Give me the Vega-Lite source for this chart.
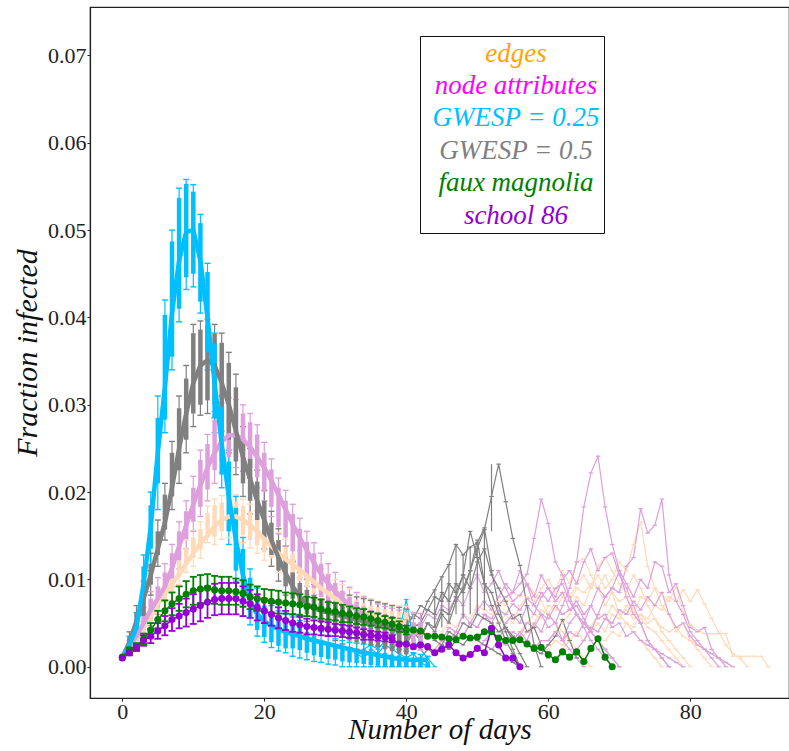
{
"$schema":"https://vega.github.io/schema/vega-lite/v6.json",
"width":699,"height":691,
"autosize":{"type":"none"},
"padding":{"left":90,"top":7,"right":0,"bottom":53},
"background":"white",
"config":{
 "font":"Liberation Serif",
 "view":{"stroke":"#222","strokeWidth":1.2},
 "style":{"guide-label":{"font":"Liberation Serif"},"guide-title":{"font":"Liberation Serif"}},
 "axis":{"domainColor":"#222","domainWidth":1.2,"tickColor":"#222","labelColor":"#222","labelFont":"Liberation Serif","labelFontSize":22,"titleFont":"Liberation Serif","titleFontStyle":"italic","titleFontWeight":"normal","titleFontSize":28,"titleColor":"#111","grid":false},
 "legend":{"labelFont":"Liberation Serif"}
},
"datasets":{
"box":[
{"m":"e","d":0,"v":0.001,"lo":0.001,"q1":0.001,"q3":0.001,"hi":0.001},
{"m":"e","d":1,"v":0.002,"lo":0.0013,"q1":0.0016,"q3":0.0024,"hi":0.0028},
{"m":"e","d":2,"v":0.0032,"lo":0.0022,"q1":0.0026,"q3":0.0038,"hi":0.0043},
{"m":"e","d":3,"v":0.0045,"lo":0.0032,"q1":0.0037,"q3":0.0053,"hi":0.0059},
{"m":"e","d":4,"v":0.0058,"lo":0.0043,"q1":0.0049,"q3":0.0067,"hi":0.0074},
{"m":"e","d":5,"v":0.0072,"lo":0.0055,"q1":0.0062,"q3":0.0082,"hi":0.009},
{"m":"e","d":6,"v":0.0085,"lo":0.0066,"q1":0.0073,"q3":0.0096,"hi":0.0105},
{"m":"e","d":7,"v":0.0095,"lo":0.0076,"q1":0.0084,"q3":0.0108,"hi":0.0117},
{"m":"e","d":8,"v":0.0106,"lo":0.0094,"q1":0.0103,"q3":0.0122,"hi":0.013},
{"m":"e","d":9,"v":0.0118,"lo":0.0108,"q1":0.0119,"q3":0.0137,"hi":0.0145},
{"m":"e","d":10,"v":0.013,"lo":0.0115,"q1":0.0125,"q3":0.0148,"hi":0.0156},
{"m":"e","d":11,"v":0.0141,"lo":0.0124,"q1":0.0134,"q3":0.0158,"hi":0.0166},
{"m":"e","d":12,"v":0.015,"lo":0.0142,"q1":0.0152,"q3":0.0176,"hi":0.0184},
{"m":"e","d":13,"v":0.0161,"lo":0.014,"q1":0.0149,"q3":0.0185,"hi":0.0192},
{"m":"e","d":14,"v":0.0168,"lo":0.0146,"q1":0.0155,"q3":0.0188,"hi":0.0196},
{"m":"e","d":15,"v":0.0172,"lo":0.0148,"q1":0.0157,"q3":0.019,"hi":0.0198},
{"m":"e","d":16,"v":0.0172,"lo":0.0146,"q1":0.0155,"q3":0.0189,"hi":0.0197},
{"m":"e","d":17,"v":0.0168,"lo":0.0142,"q1":0.0151,"q3":0.0184,"hi":0.0192},
{"m":"e","d":18,"v":0.0162,"lo":0.0136,"q1":0.0145,"q3":0.0178,"hi":0.0186},
{"m":"e","d":19,"v":0.0155,"lo":0.013,"q1":0.0139,"q3":0.0171,"hi":0.0179},
{"m":"e","d":20,"v":0.0146,"lo":0.0122,"q1":0.0131,"q3":0.0162,"hi":0.017},
{"m":"e","d":21,"v":0.0138,"lo":0.0115,"q1":0.0124,"q3":0.0153,"hi":0.0162},
{"m":"e","d":22,"v":0.013,"lo":0.0108,"q1":0.0117,"q3":0.0145,"hi":0.0154},
{"m":"e","d":23,"v":0.0123,"lo":0.0101,"q1":0.011,"q3":0.0137,"hi":0.0146},
{"m":"e","d":24,"v":0.0117,"lo":0.0095,"q1":0.0104,"q3":0.013,"hi":0.0139},
{"m":"e","d":25,"v":0.0111,"lo":0.0089,"q1":0.0098,"q3":0.0124,"hi":0.0133},
{"m":"e","d":26,"v":0.0104,"lo":0.0082,"q1":0.0091,"q3":0.0117,"hi":0.0126},
{"m":"e","d":27,"v":0.0097,"lo":0.0076,"q1":0.0084,"q3":0.011,"hi":0.0119},
{"m":"e","d":28,"v":0.009,"lo":0.007,"q1":0.0078,"q3":0.0103,"hi":0.0112},
{"m":"e","d":29,"v":0.0084,"lo":0.0065,"q1":0.0072,"q3":0.0097,"hi":0.0106},
{"m":"e","d":30,"v":0.0078,"lo":0.006,"q1":0.0067,"q3":0.0091,"hi":0.01},
{"m":"e","d":31,"v":0.0073,"lo":0.0056,"q1":0.0063,"q3":0.0086,"hi":0.0094},
{"m":"e","d":32,"v":0.0069,"lo":0.0052,"q1":0.0059,"q3":0.0081,"hi":0.0089},
{"m":"e","d":33,"v":0.0065,"lo":0.0049,"q1":0.0055,"q3":0.0077,"hi":0.0085},
{"m":"e","d":34,"v":0.0062,"lo":0.0046,"q1":0.0052,"q3":0.0073,"hi":0.0081},
{"m":"e","d":35,"v":0.0059,"lo":0.0043,"q1":0.0049,"q3":0.007,"hi":0.0078},
{"m":"e","d":36,"v":0.0057,"lo":0.0041,"q1":0.0047,"q3":0.0068,"hi":0.0075},
{"m":"e","d":37,"v":0.0055,"lo":0.0039,"q1":0.0045,"q3":0.0066,"hi":0.0073},
{"m":"e","d":38,"v":0.0053,"lo":0.0037,"q1":0.0043,"q3":0.0064,"hi":0.0071},
{"m":"e","d":39,"v":0.0052,"lo":0.0036,"q1":0.0042,"q3":0.0063,"hi":0.007},
{"m":"e","d":40,"v":0.0051,"lo":0.0035,"q1":0.0041,"q3":0.0062,"hi":0.0069},
{"m":"n","d":0,"v":0.001,"lo":0.001,"q1":0.001,"q3":0.001,"hi":0.001},
{"m":"n","d":1,"v":0.0022,"lo":0.0014,"q1":0.0018,"q3":0.0026,"hi":0.003},
{"m":"n","d":2,"v":0.0035,"lo":0.0024,"q1":0.0029,"q3":0.0042,"hi":0.0048},
{"m":"n","d":3,"v":0.005,"lo":0.0035,"q1":0.0042,"q3":0.006,"hi":0.0068},
{"m":"n","d":4,"v":0.0065,"lo":0.0047,"q1":0.0055,"q3":0.0078,"hi":0.0086},
{"m":"n","d":5,"v":0.0078,"lo":0.006,"q1":0.0068,"q3":0.0092,"hi":0.0102},
{"m":"n","d":6,"v":0.0092,"lo":0.0075,"q1":0.0083,"q3":0.0108,"hi":0.0118},
{"m":"n","d":7,"v":0.0113,"lo":0.0092,"q1":0.0101,"q3":0.013,"hi":0.014},
{"m":"n","d":8,"v":0.0138,"lo":0.0112,"q1":0.0122,"q3":0.0155,"hi":0.0166},
{"m":"n","d":9,"v":0.0162,"lo":0.0135,"q1":0.0146,"q3":0.0178,"hi":0.019},
{"m":"n","d":10,"v":0.0186,"lo":0.0155,"q1":0.0166,"q3":0.0205,"hi":0.0218},
{"m":"n","d":11,"v":0.0208,"lo":0.0172,"q1":0.0183,"q3":0.0237,"hi":0.0248},
{"m":"n","d":12,"v":0.0228,"lo":0.019,"q1":0.0203,"q3":0.0255,"hi":0.0266},
{"m":"n","d":13,"v":0.0245,"lo":0.021,"q1":0.0225,"q3":0.0283,"hi":0.0292},
{"m":"n","d":14,"v":0.0258,"lo":0.0222,"q1":0.0235,"q3":0.0292,"hi":0.0302},
{"m":"n","d":15,"v":0.0265,"lo":0.0228,"q1":0.024,"q3":0.0298,"hi":0.0308},
{"m":"n","d":16,"v":0.0265,"lo":0.0228,"q1":0.024,"q3":0.0296,"hi":0.0306},
{"m":"n","d":17,"v":0.026,"lo":0.0224,"q1":0.0236,"q3":0.029,"hi":0.03},
{"m":"n","d":18,"v":0.0252,"lo":0.0216,"q1":0.0228,"q3":0.028,"hi":0.029},
{"m":"n","d":19,"v":0.024,"lo":0.0205,"q1":0.0217,"q3":0.0266,"hi":0.0277},
{"m":"n","d":20,"v":0.0228,"lo":0.019,"q1":0.02,"q3":0.0245,"hi":0.0257},
{"m":"n","d":21,"v":0.0213,"lo":0.0172,"q1":0.0183,"q3":0.0226,"hi":0.0238},
{"m":"n","d":22,"v":0.0197,"lo":0.0152,"q1":0.016,"q3":0.0205,"hi":0.0216},
{"m":"n","d":23,"v":0.018,"lo":0.0138,"q1":0.0148,"q3":0.019,"hi":0.0202},
{"m":"n","d":24,"v":0.0163,"lo":0.0122,"q1":0.0132,"q3":0.0175,"hi":0.0186},
{"m":"n","d":25,"v":0.0148,"lo":0.0102,"q1":0.0111,"q3":0.0158,"hi":0.017},
{"m":"n","d":26,"v":0.0133,"lo":0.0092,"q1":0.0101,"q3":0.0143,"hi":0.0155},
{"m":"n","d":27,"v":0.0119,"lo":0.0082,"q1":0.009,"q3":0.013,"hi":0.0142},
{"m":"n","d":28,"v":0.0106,"lo":0.0072,"q1":0.008,"q3":0.0118,"hi":0.013},
{"m":"n","d":29,"v":0.0095,"lo":0.0064,"q1":0.0071,"q3":0.0106,"hi":0.0118},
{"m":"n","d":30,"v":0.0086,"lo":0.0057,"q1":0.0064,"q3":0.0096,"hi":0.0108},
{"m":"n","d":31,"v":0.0078,"lo":0.0051,"q1":0.0058,"q3":0.0087,"hi":0.0098},
{"m":"n","d":32,"v":0.0071,"lo":0.0046,"q1":0.0052,"q3":0.008,"hi":0.0091},
{"m":"n","d":33,"v":0.0065,"lo":0.0041,"q1":0.0047,"q3":0.0074,"hi":0.0085},
{"m":"n","d":34,"v":0.006,"lo":0.0037,"q1":0.0043,"q3":0.0069,"hi":0.008},
{"m":"n","d":35,"v":0.0055,"lo":0.0033,"q1":0.0039,"q3":0.0065,"hi":0.0076},
{"m":"n","d":36,"v":0.0051,"lo":0.003,"q1":0.0036,"q3":0.0061,"hi":0.0072},
{"m":"n","d":37,"v":0.0048,"lo":0.0027,"q1":0.0033,"q3":0.0058,"hi":0.0069},
{"m":"n","d":38,"v":0.0045,"lo":0.0025,"q1":0.0031,"q3":0.0056,"hi":0.0067},
{"m":"n","d":39,"v":0.0043,"lo":0.0023,"q1":0.0029,"q3":0.0054,"hi":0.0065},
{"m":"n","d":40,"v":0.0041,"lo":0.0021,"q1":0.0027,"q3":0.0052,"hi":0.0063},
{"m":"n","d":41,"v":0.004,"lo":0.002,"q1":0.0026,"q3":0.0051,"hi":0.0062},
{"m":"n","d":42,"v":0.0039,"lo":0.0019,"q1":0.0025,"q3":0.005,"hi":0.0061},
{"m":"b","d":0,"v":0.001,"lo":0.001,"q1":0.001,"q3":0.001,"hi":0.001},
{"m":"b","d":1,"v":0.0028,"lo":0.0018,"q1":0.0022,"q3":0.0034,"hi":0.004},
{"m":"b","d":2,"v":0.0052,"lo":0.0035,"q1":0.0042,"q3":0.0062,"hi":0.007},
{"m":"b","d":3,"v":0.0078,"lo":0.0052,"q1":0.0058,"q3":0.0088,"hi":0.0098},
{"m":"b","d":4,"v":0.0105,"lo":0.0082,"q1":0.0094,"q3":0.0118,"hi":0.013},
{"m":"b","d":5,"v":0.0135,"lo":0.0115,"q1":0.0128,"q3":0.0155,"hi":0.0168},
{"m":"b","d":6,"v":0.0165,"lo":0.0145,"q1":0.0157,"q3":0.0197,"hi":0.021},
{"m":"b","d":7,"v":0.0205,"lo":0.018,"q1":0.0195,"q3":0.0245,"hi":0.0258},
{"m":"b","d":8,"v":0.025,"lo":0.021,"q1":0.0225,"q3":0.0296,"hi":0.031},
{"m":"b","d":9,"v":0.029,"lo":0.0245,"q1":0.026,"q3":0.033,"hi":0.0345},
{"m":"b","d":10,"v":0.0325,"lo":0.0275,"q1":0.029,"q3":0.0382,"hi":0.0392},
{"m":"b","d":11,"v":0.0345,"lo":0.0288,"q1":0.03,"q3":0.0386,"hi":0.0396},
{"m":"b","d":12,"v":0.0351,"lo":0.029,"q1":0.0305,"q3":0.039,"hi":0.0398},
{"m":"b","d":13,"v":0.0345,"lo":0.0285,"q1":0.03,"q3":0.0381,"hi":0.0392},
{"m":"b","d":14,"v":0.0325,"lo":0.027,"q1":0.0285,"q3":0.0371,"hi":0.0382},
{"m":"b","d":15,"v":0.03,"lo":0.0245,"q1":0.026,"q3":0.0348,"hi":0.036},
{"m":"b","d":16,"v":0.027,"lo":0.022,"q1":0.0235,"q3":0.032,"hi":0.0335},
{"m":"b","d":17,"v":0.024,"lo":0.0195,"q1":0.021,"q3":0.0262,"hi":0.0275},
{"m":"b","d":18,"v":0.0215,"lo":0.0175,"q1":0.019,"q3":0.0238,"hi":0.025},
{"m":"b","d":19,"v":0.019,"lo":0.0155,"q1":0.0168,"q3":0.0212,"hi":0.0225},
{"m":"b","d":20,"v":0.0168,"lo":0.0135,"q1":0.0148,"q3":0.019,"hi":0.0202},
{"m":"b","d":21,"v":0.0145,"lo":0.0115,"q1":0.0128,"q3":0.0165,"hi":0.0178},
{"m":"b","d":22,"v":0.0125,"lo":0.0098,"q1":0.011,"q3":0.0145,"hi":0.0158},
{"m":"b","d":23,"v":0.0107,"lo":0.0082,"q1":0.0092,"q3":0.0125,"hi":0.0138},
{"m":"b","d":24,"v":0.0092,"lo":0.007,"q1":0.0078,"q3":0.0108,"hi":0.012},
{"m":"b","d":25,"v":0.008,"lo":0.006,"q1":0.0068,"q3":0.0096,"hi":0.0108},
{"m":"b","d":26,"v":0.0072,"lo":0.0052,"q1":0.006,"q3":0.0088,"hi":0.01},
{"m":"b","d":27,"v":0.0067,"lo":0.0046,"q1":0.0054,"q3":0.0082,"hi":0.0094},
{"m":"b","d":28,"v":0.0064,"lo":0.0042,"q1":0.005,"q3":0.0078,"hi":0.009},
{"m":"b","d":29,"v":0.0062,"lo":0.0035,"q1":0.0042,"q3":0.0076,"hi":0.0088},
{"m":"b","d":30,"v":0.006,"lo":0.003,"q1":0.0038,"q3":0.0074,"hi":0.0086},
{"m":"b","d":31,"v":0.0058,"lo":0.0026,"q1":0.0034,"q3":0.0072,"hi":0.0084},
{"m":"b","d":32,"v":0.0056,"lo":0.0022,"q1":0.003,"q3":0.007,"hi":0.0082},
{"m":"b","d":33,"v":0.0054,"lo":0.002,"q1":0.0028,"q3":0.0068,"hi":0.008},
{"m":"b","d":34,"v":0.0052,"lo":0.0018,"q1":0.0026,"q3":0.0066,"hi":0.0078},
{"m":"b","d":35,"v":0.005,"lo":0.0016,"q1":0.0024,"q3":0.0064,"hi":0.0076},
{"m":"b","d":36,"v":0.0048,"lo":0.0014,"q1":0.0022,"q3":0.0062,"hi":0.0074},
{"m":"b","d":37,"v":0.0046,"lo":0.0012,"q1":0.002,"q3":0.006,"hi":0.0072},
{"m":"b","d":38,"v":0.0044,"lo":0.001,"q1":0.0018,"q3":0.0058,"hi":0.007},
{"m":"b","d":39,"v":0.0042,"lo":0.0008,"q1":0.0016,"q3":0.0056,"hi":0.0068},
{"m":"b","d":40,"v":0.004,"lo":0.0006,"q1":0.0014,"q3":0.0054,"hi":0.0066},
{"m":"a","d":0,"v":0.001,"lo":0.001,"q1":0.001,"q3":0.001,"hi":0.001},
{"m":"a","d":1,"v":0.0025,"lo":0.0015,"q1":0.002,"q3":0.003,"hi":0.0035},
{"m":"a","d":2,"v":0.0045,"lo":0.0032,"q1":0.004,"q3":0.0055,"hi":0.0062},
{"m":"a","d":3,"v":0.0095,"lo":0.006,"q1":0.0075,"q3":0.0115,"hi":0.0128},
{"m":"a","d":4,"v":0.016,"lo":0.011,"q1":0.0135,"q3":0.0185,"hi":0.02},
{"m":"a","d":5,"v":0.0245,"lo":0.018,"q1":0.021,"q3":0.0285,"hi":0.031},
{"m":"a","d":6,"v":0.032,"lo":0.0268,"q1":0.0283,"q3":0.0403,"hi":0.042},
{"m":"a","d":7,"v":0.0405,"lo":0.034,"q1":0.0355,"q3":0.0487,"hi":0.05},
{"m":"a","d":8,"v":0.0465,"lo":0.0395,"q1":0.041,"q3":0.0537,"hi":0.0548},
{"m":"a","d":9,"v":0.0498,"lo":0.0432,"q1":0.0446,"q3":0.0553,"hi":0.0558},
{"m":"a","d":10,"v":0.05,"lo":0.0435,"q1":0.045,"q3":0.0544,"hi":0.0552},
{"m":"a","d":11,"v":0.0465,"lo":0.0405,"q1":0.0418,"q3":0.0508,"hi":0.0518},
{"m":"a","d":12,"v":0.04,"lo":0.034,"q1":0.036,"q3":0.0452,"hi":0.0462},
{"m":"a","d":13,"v":0.0325,"lo":0.0268,"q1":0.0285,"q3":0.037,"hi":0.0382},
{"m":"a","d":14,"v":0.0255,"lo":0.0205,"q1":0.022,"q3":0.0298,"hi":0.031},
{"m":"a","d":15,"v":0.0195,"lo":0.014,"q1":0.0155,"q3":0.0235,"hi":0.0248},
{"m":"a","d":16,"v":0.0145,"lo":0.0098,"q1":0.011,"q3":0.0182,"hi":0.0195},
{"m":"a","d":17,"v":0.0105,"lo":0.0068,"q1":0.0078,"q3":0.0135,"hi":0.0148},
{"m":"a","d":18,"v":0.0075,"lo":0.0048,"q1":0.0056,"q3":0.0102,"hi":0.0112},
{"m":"a","d":19,"v":0.006,"lo":0.0035,"q1":0.0042,"q3":0.0082,"hi":0.009},
{"m":"a","d":20,"v":0.0052,"lo":0.0028,"q1":0.0034,"q3":0.007,"hi":0.0078},
{"m":"a","d":21,"v":0.0047,"lo":0.0022,"q1":0.0028,"q3":0.0062,"hi":0.007},
{"m":"a","d":22,"v":0.0043,"lo":0.0018,"q1":0.0024,"q3":0.0056,"hi":0.0064},
{"m":"a","d":23,"v":0.004,"lo":0.0016,"q1":0.0021,"q3":0.0052,"hi":0.006},
{"m":"a","d":24,"v":0.0037,"lo":0.0012,"q1":0.0021,"q3":0.0049,"hi":0.0057},
{"m":"a","d":25,"v":0.0035,"lo":0.001,"q1":0.0019,"q3":0.0045,"hi":0.0053},
{"m":"a","d":26,"v":0.0032,"lo":0.0008,"q1":0.0016,"q3":0.004,"hi":0.0048},
{"m":"a","d":27,"v":0.003,"lo":0.0006,"q1":0.0013,"q3":0.0036,"hi":0.0044},
{"m":"a","d":28,"v":0.0028,"lo":0.0005,"q1":0.0011,"q3":0.0031,"hi":0.004},
{"m":"a","d":29,"v":0.0026,"lo":0.0003,"q1":0.0009,"q3":0.0027,"hi":0.0036},
{"m":"a","d":30,"v":0.0024,"lo":0.0002,"q1":0.0008,"q3":0.0023,"hi":0.0032},
{"m":"a","d":31,"v":0.0022,"lo":0,"q1":0.0006,"q3":0.0022,"hi":0.003},
{"m":"a","d":32,"v":0.002,"lo":0,"q1":0.0005,"q3":0.002,"hi":0.0028},
{"m":"a","d":33,"v":0.0018,"lo":0,"q1":0.0004,"q3":0.0019,"hi":0.0027},
{"m":"a","d":34,"v":0.0016,"lo":0,"q1":0.0003,"q3":0.0018,"hi":0.0026},
{"m":"a","d":35,"v":0.0015,"lo":0,"q1":0.0002,"q3":0.0017,"hi":0.0025},
{"m":"a","d":36,"v":0.0013,"lo":0,"q1":0.0001,"q3":0.0016,"hi":0.0024},
{"m":"a","d":37,"v":0.0012,"lo":0,"q1":0,"q3":0.0016,"hi":0.0023},
{"m":"a","d":38,"v":0.001,"lo":0,"q1":0,"q3":0.0014,"hi":0.0022},
{"m":"a","d":39,"v":0.0009,"lo":0,"q1":0,"q3":0.0013,"hi":0.002},
{"m":"a","d":40,"v":0.0008,"lo":0,"q1":0,"q3":0.0012,"hi":0.0018},
{"m":"a","d":41,"v":0.0008,"lo":0,"q1":0,"q3":0.001,"hi":0.0016},
{"m":"a","d":42,"v":0.0008,"lo":0,"q1":0,"q3":0.0008,"hi":0.0014},
{"m":"a","d":43,"v":0.0008,"lo":0,"q1":0,"q3":0.0006,"hi":0.0012}
],
"obs":[
{"m":"f","d":0,"v":0.0011},
{"m":"f","d":1,"v":0.0019,"lo":0.0016,"hi":0.0022},
{"m":"f","d":2,"v":0.0023,"lo":0.0019,"hi":0.0027},
{"m":"f","d":3,"v":0.0032,"lo":0.0026,"hi":0.0038},
{"m":"f","d":4,"v":0.0042,"lo":0.0034,"hi":0.005},
{"m":"f","d":5,"v":0.0054,"lo":0.0044,"hi":0.0064},
{"m":"f","d":6,"v":0.0064,"lo":0.0052,"hi":0.0076},
{"m":"f","d":7,"v":0.0072,"lo":0.0059,"hi":0.0085},
{"m":"f","d":8,"v":0.0078,"lo":0.0064,"hi":0.0092},
{"m":"f","d":9,"v":0.0083,"lo":0.0068,"hi":0.0098},
{"m":"f","d":10,"v":0.0087,"lo":0.0071,"hi":0.0103},
{"m":"f","d":11,"v":0.0089,"lo":0.0073,"hi":0.0105},
{"m":"f","d":12,"v":0.009,"lo":0.0074,"hi":0.0106},
{"m":"f","d":13,"v":0.0088,"lo":0.0072,"hi":0.0104},
{"m":"f","d":14,"v":0.0087,"lo":0.0071,"hi":0.0103},
{"m":"f","d":15,"v":0.0087,"lo":0.0071,"hi":0.0103},
{"m":"f","d":16,"v":0.0086,"lo":0.0071,"hi":0.0101},
{"m":"f","d":17,"v":0.0084,"lo":0.0069,"hi":0.0099},
{"m":"f","d":18,"v":0.008,"lo":0.0066,"hi":0.0094},
{"m":"f","d":19,"v":0.0078,"lo":0.0064,"hi":0.0092},
{"m":"f","d":20,"v":0.0076,"lo":0.0063,"hi":0.0089},
{"m":"f","d":21,"v":0.0075,"lo":0.0062,"hi":0.0088},
{"m":"f","d":22,"v":0.0074,"lo":0.0061,"hi":0.0087},
{"m":"f","d":23,"v":0.0073,"lo":0.0061,"hi":0.0085},
{"m":"f","d":24,"v":0.0072,"lo":0.006,"hi":0.0084},
{"m":"f","d":25,"v":0.0071,"lo":0.0059,"hi":0.0083},
{"m":"f","d":26,"v":0.0069,"lo":0.0058,"hi":0.008},
{"m":"f","d":27,"v":0.0068,"lo":0.0057,"hi":0.0079},
{"m":"f","d":28,"v":0.0066,"lo":0.0055,"hi":0.0077},
{"m":"f","d":29,"v":0.0064,"lo":0.0054,"hi":0.0074},
{"m":"f","d":30,"v":0.0063,"lo":0.0053,"hi":0.0073},
{"m":"f","d":31,"v":0.0061,"lo":0.0051,"hi":0.0071},
{"m":"f","d":32,"v":0.006,"lo":0.0051,"hi":0.0069},
{"m":"f","d":33,"v":0.0058,"lo":0.0049,"hi":0.0067},
{"m":"f","d":34,"v":0.0057,"lo":0.0048,"hi":0.0066},
{"m":"f","d":35,"v":0.0055,"lo":0.0047,"hi":0.0063},
{"m":"f","d":36,"v":0.0053,"lo":0.0045,"hi":0.0061},
{"m":"f","d":37,"v":0.0051,"lo":0.0044,"hi":0.0058},
{"m":"f","d":38,"v":0.0049,"lo":0.0042,"hi":0.0056},
{"m":"f","d":39,"v":0.0046,"lo":0.004,"hi":0.0052},
{"m":"f","d":40,"v":0.0042,"lo":0.0037,"hi":0.0047},
{"m":"f","d":41,"v":0.0042},{"m":"f","d":42,"v":0.0041},{"m":"f","d":43,"v":0.0035},{"m":"f","d":44,"v":0.0035},
{"m":"f","d":45,"v":0.0034},{"m":"f","d":46,"v":0.0032},{"m":"f","d":47,"v":0.0031},{"m":"f","d":48,"v":0.0035},
{"m":"f","d":49,"v":0.0033},{"m":"f","d":50,"v":0.0034},{"m":"f","d":51,"v":0.004},{"m":"f","d":52,"v":0.004},
{"m":"f","d":53,"v":0.0033},{"m":"f","d":54,"v":0.003},{"m":"f","d":55,"v":0.003},{"m":"f","d":56,"v":0.0031},
{"m":"f","d":57,"v":0.0026},{"m":"f","d":58,"v":0.0021},{"m":"f","d":59,"v":0.0022},{"m":"f","d":60,"v":0.0014},
{"m":"f","d":61,"v":0.0008},{"m":"f","d":62,"v":0.0017},{"m":"f","d":63,"v":0.0011},{"m":"f","d":64,"v":0.0017},
{"m":"f","d":65,"v":0.0006},{"m":"f","d":66,"v":0.0021},{"m":"f","d":67,"v":0.0032},{"m":"f","d":68,"v":0.0011},
{"m":"f","d":69,"v":0.0},
{"m":"s","d":0,"v":0.001},
{"m":"s","d":1,"v":0.0016,"lo":0.0013,"hi":0.0019},
{"m":"s","d":2,"v":0.0022,"lo":0.0018,"hi":0.0026},
{"m":"s","d":3,"v":0.003,"lo":0.0024,"hi":0.0036},
{"m":"s","d":4,"v":0.0035,"lo":0.0027,"hi":0.0043},
{"m":"s","d":5,"v":0.0041,"lo":0.0032,"hi":0.005},
{"m":"s","d":6,"v":0.0047,"lo":0.0036,"hi":0.0058},
{"m":"s","d":7,"v":0.0054,"lo":0.0041,"hi":0.0067},
{"m":"s","d":8,"v":0.0058,"lo":0.0044,"hi":0.0072},
{"m":"s","d":9,"v":0.0062,"lo":0.0046,"hi":0.0078},
{"m":"s","d":10,"v":0.0066,"lo":0.0049,"hi":0.0083},
{"m":"s","d":11,"v":0.007,"lo":0.0052,"hi":0.0088},
{"m":"s","d":12,"v":0.0074,"lo":0.0056,"hi":0.0092},
{"m":"s","d":13,"v":0.0077,"lo":0.0059,"hi":0.0095},
{"m":"s","d":14,"v":0.0078,"lo":0.006,"hi":0.0096},
{"m":"s","d":15,"v":0.0078,"lo":0.006,"hi":0.0096},
{"m":"s","d":16,"v":0.0078,"lo":0.006,"hi":0.0096},
{"m":"s","d":17,"v":0.0075,"lo":0.0058,"hi":0.0092},
{"m":"s","d":18,"v":0.0072,"lo":0.0056,"hi":0.0088},
{"m":"s","d":19,"v":0.0068,"lo":0.0053,"hi":0.0083},
{"m":"s","d":20,"v":0.0064,"lo":0.005,"hi":0.0078},
{"m":"s","d":21,"v":0.006,"lo":0.0047,"hi":0.0073},
{"m":"s","d":22,"v":0.0056,"lo":0.0044,"hi":0.0068},
{"m":"s","d":23,"v":0.0053,"lo":0.0042,"hi":0.0064},
{"m":"s","d":24,"v":0.005,"lo":0.004,"hi":0.006},
{"m":"s","d":25,"v":0.0048,"lo":0.0039,"hi":0.0057},
{"m":"s","d":26,"v":0.0046,"lo":0.0037,"hi":0.0055},
{"m":"s","d":27,"v":0.0045,"lo":0.0037,"hi":0.0053},
{"m":"s","d":28,"v":0.0044,"lo":0.0036,"hi":0.0052},
{"m":"s","d":29,"v":0.0043,"lo":0.0035,"hi":0.0051},
{"m":"s","d":30,"v":0.0042,"lo":0.0035,"hi":0.0049},
{"m":"s","d":31,"v":0.0041,"lo":0.0034,"hi":0.0048},
{"m":"s","d":32,"v":0.004,"lo":0.0033,"hi":0.0047},
{"m":"s","d":33,"v":0.0039,"lo":0.0033,"hi":0.0045},
{"m":"s","d":34,"v":0.0037,"lo":0.0031,"hi":0.0043},
{"m":"s","d":35,"v":0.0036,"lo":0.0031,"hi":0.0041},
{"m":"s","d":36,"v":0.0035,"lo":0.003,"hi":0.004},
{"m":"s","d":37,"v":0.0034,"lo":0.0029,"hi":0.0039},
{"m":"s","d":38,"v":0.0032,"lo":0.0028,"hi":0.0036},
{"m":"s","d":39,"v":0.0026},{"m":"s","d":40,"v":0.0026},{"m":"s","d":41,"v":0.0023},{"m":"s","d":42,"v":0.0025},
{"m":"s","d":43,"v":0.0023},{"m":"s","d":44,"v":0.0016},{"m":"s","d":45,"v":0.002},{"m":"s","d":46,"v":0.0025},
{"m":"s","d":47,"v":0.0016},{"m":"s","d":48,"v":0.001},{"m":"s","d":49,"v":0.0014},{"m":"s","d":50,"v":0.0021},
{"m":"s","d":51,"v":0.0016},{"m":"s","d":52,"v":0.0044},{"m":"s","d":53,"v":0.0025},{"m":"s","d":54,"v":0.001},
{"m":"s","d":55,"v":0.001},{"m":"s","d":56,"v":0.0}
],
"sim":[
{"s":"E1","m":"e","d":58,"v":0.002},{"s":"E1","m":"e","d":59,"v":0.003},{"s":"E1","m":"e","d":60,"v":0.003},{"s":"E1","m":"e","d":61,"v":0.004},{"s":"E1","m":"e","d":62,"v":0.005},{"s":"E1","m":"e","d":63,"v":0.006},{"s":"E1","m":"e","d":64,"v":0.008},{"s":"E1","m":"e","d":65,"v":0.007},{"s":"E1","m":"e","d":66,"v":0.009},{"s":"E1","m":"e","d":67,"v":0.0105},{"s":"E1","m":"e","d":68,"v":0.009},{"s":"E1","m":"e","d":69,"v":0.01},{"s":"E1","m":"e","d":70,"v":0.012},{"s":"E1","m":"e","d":71,"v":0.011},{"s":"E1","m":"e","d":72,"v":0.014},{"s":"E1","m":"e","d":73,"v":0.0166},{"s":"E1","m":"e","d":74,"v":0.0115},{"s":"E1","m":"e","d":75,"v":0.009},{"s":"E1","m":"e","d":76,"v":0.007},{"s":"E1","m":"e","d":77,"v":0.006},{"s":"E1","m":"e","d":78,"v":0.004},{"s":"E1","m":"e","d":79,"v":0.005},{"s":"E1","m":"e","d":80,"v":0.003},{"s":"E1","m":"e","d":81,"v":0.002},{"s":"E1","m":"e","d":82,"v":0.001},{"s":"E1","m":"e","d":83,"v":0.0},
{"s":"E2","m":"e","d":50,"v":0.003},{"s":"E2","m":"e","d":51,"v":0.004},{"s":"E2","m":"e","d":52,"v":0.004},{"s":"E2","m":"e","d":53,"v":0.005},{"s":"E2","m":"e","d":54,"v":0.006},{"s":"E2","m":"e","d":55,"v":0.005},{"s":"E2","m":"e","d":56,"v":0.007},{"s":"E2","m":"e","d":57,"v":0.008},{"s":"E2","m":"e","d":58,"v":0.0075},{"s":"E2","m":"e","d":59,"v":0.009},{"s":"E2","m":"e","d":60,"v":0.01},{"s":"E2","m":"e","d":61,"v":0.0085},{"s":"E2","m":"e","d":62,"v":0.011},{"s":"E2","m":"e","d":63,"v":0.0095},{"s":"E2","m":"e","d":64,"v":0.012},{"s":"E2","m":"e","d":65,"v":0.0124},{"s":"E2","m":"e","d":66,"v":0.0105},{"s":"E2","m":"e","d":67,"v":0.009},{"s":"E2","m":"e","d":68,"v":0.007},{"s":"E2","m":"e","d":69,"v":0.0085},{"s":"E2","m":"e","d":70,"v":0.006},{"s":"E2","m":"e","d":71,"v":0.005},{"s":"E2","m":"e","d":72,"v":0.004},{"s":"E2","m":"e","d":73,"v":0.003},{"s":"E2","m":"e","d":74,"v":0.002},{"s":"E2","m":"e","d":75,"v":0.001},{"s":"E2","m":"e","d":76,"v":0.0},
{"s":"E3","m":"e","d":62,"v":0.002},{"s":"E3","m":"e","d":63,"v":0.003},{"s":"E3","m":"e","d":64,"v":0.004},{"s":"E3","m":"e","d":65,"v":0.003},{"s":"E3","m":"e","d":66,"v":0.004},{"s":"E3","m":"e","d":67,"v":0.005},{"s":"E3","m":"e","d":68,"v":0.004},{"s":"E3","m":"e","d":69,"v":0.006},{"s":"E3","m":"e","d":70,"v":0.0055},{"s":"E3","m":"e","d":71,"v":0.007},{"s":"E3","m":"e","d":72,"v":0.006},{"s":"E3","m":"e","d":73,"v":0.008},{"s":"E3","m":"e","d":74,"v":0.0075},{"s":"E3","m":"e","d":75,"v":0.009},{"s":"E3","m":"e","d":76,"v":0.0082},{"s":"E3","m":"e","d":77,"v":0.0075},{"s":"E3","m":"e","d":78,"v":0.0092},{"s":"E3","m":"e","d":79,"v":0.0062},{"s":"E3","m":"e","d":80,"v":0.0048},{"s":"E3","m":"e","d":81,"v":0.0042},{"s":"E3","m":"e","d":82,"v":0.0038},{"s":"E3","m":"e","d":83,"v":0.0038},{"s":"E3","m":"e","d":84,"v":0.0038},{"s":"E3","m":"e","d":85,"v":0.0038},{"s":"E3","m":"e","d":86,"v":0.0012},{"s":"E3","m":"e","d":87,"v":0.0012},{"s":"E3","m":"e","d":88,"v":0.0012},{"s":"E3","m":"e","d":89,"v":0.0012},{"s":"E3","m":"e","d":90,"v":0.0012},{"s":"E3","m":"e","d":91,"v":0.0},
{"s":"E4","m":"e","d":55,"v":0.003},{"s":"E4","m":"e","d":56,"v":0.004},{"s":"E4","m":"e","d":57,"v":0.005},{"s":"E4","m":"e","d":58,"v":0.006},{"s":"E4","m":"e","d":59,"v":0.0055},{"s":"E4","m":"e","d":60,"v":0.007},{"s":"E4","m":"e","d":61,"v":0.0065},{"s":"E4","m":"e","d":62,"v":0.008},{"s":"E4","m":"e","d":63,"v":0.0075},{"s":"E4","m":"e","d":64,"v":0.009},{"s":"E4","m":"e","d":65,"v":0.0085},{"s":"E4","m":"e","d":66,"v":0.0095},{"s":"E4","m":"e","d":67,"v":0.009},{"s":"E4","m":"e","d":68,"v":0.0105},{"s":"E4","m":"e","d":69,"v":0.0085},{"s":"E4","m":"e","d":70,"v":0.0075},{"s":"E4","m":"e","d":71,"v":0.008},{"s":"E4","m":"e","d":72,"v":0.0065},{"s":"E4","m":"e","d":73,"v":0.0055},{"s":"E4","m":"e","d":74,"v":0.0045},{"s":"E4","m":"e","d":75,"v":0.004},{"s":"E4","m":"e","d":76,"v":0.003},{"s":"E4","m":"e","d":77,"v":0.002},{"s":"E4","m":"e","d":78,"v":0.001},{"s":"E4","m":"e","d":79,"v":0.0},
{"s":"E5","m":"e","d":68,"v":0.003},{"s":"E5","m":"e","d":69,"v":0.004},{"s":"E5","m":"e","d":70,"v":0.0035},{"s":"E5","m":"e","d":71,"v":0.005},{"s":"E5","m":"e","d":72,"v":0.0045},{"s":"E5","m":"e","d":73,"v":0.006},{"s":"E5","m":"e","d":74,"v":0.0055},{"s":"E5","m":"e","d":75,"v":0.007},{"s":"E5","m":"e","d":76,"v":0.0065},{"s":"E5","m":"e","d":77,"v":0.008},{"s":"E5","m":"e","d":78,"v":0.0075},{"s":"E5","m":"e","d":79,"v":0.0088},{"s":"E5","m":"e","d":80,"v":0.0075},{"s":"E5","m":"e","d":81,"v":0.0088},{"s":"E5","m":"e","d":82,"v":0.0072},{"s":"E5","m":"e","d":83,"v":0.0055},{"s":"E5","m":"e","d":84,"v":0.004},{"s":"E5","m":"e","d":85,"v":0.0025},{"s":"E5","m":"e","d":86,"v":0.0015},{"s":"E5","m":"e","d":87,"v":0.001},{"s":"E5","m":"e","d":88,"v":0.0},
{"s":"E6","m":"e","d":45,"v":0.004},{"s":"E6","m":"e","d":46,"v":0.005},{"s":"E6","m":"e","d":47,"v":0.0045},{"s":"E6","m":"e","d":48,"v":0.006},{"s":"E6","m":"e","d":49,"v":0.0055},{"s":"E6","m":"e","d":50,"v":0.007},{"s":"E6","m":"e","d":51,"v":0.0065},{"s":"E6","m":"e","d":52,"v":0.006},{"s":"E6","m":"e","d":53,"v":0.0075},{"s":"E6","m":"e","d":54,"v":0.007},{"s":"E6","m":"e","d":55,"v":0.0085},{"s":"E6","m":"e","d":56,"v":0.008},{"s":"E6","m":"e","d":57,"v":0.0095},{"s":"E6","m":"e","d":58,"v":0.0085},{"s":"E6","m":"e","d":59,"v":0.0075},{"s":"E6","m":"e","d":60,"v":0.006},{"s":"E6","m":"e","d":61,"v":0.005},{"s":"E6","m":"e","d":62,"v":0.004},{"s":"E6","m":"e","d":63,"v":0.003},{"s":"E6","m":"e","d":64,"v":0.002},{"s":"E6","m":"e","d":65,"v":0.001},{"s":"E6","m":"e","d":66,"v":0.0},
{"s":"E7","m":"e","d":60,"v":0.002},{"s":"E7","m":"e","d":61,"v":0.003},{"s":"E7","m":"e","d":62,"v":0.0025},{"s":"E7","m":"e","d":63,"v":0.004},{"s":"E7","m":"e","d":64,"v":0.0035},{"s":"E7","m":"e","d":65,"v":0.005},{"s":"E7","m":"e","d":66,"v":0.0045},{"s":"E7","m":"e","d":67,"v":0.006},{"s":"E7","m":"e","d":68,"v":0.0055},{"s":"E7","m":"e","d":69,"v":0.007},{"s":"E7","m":"e","d":70,"v":0.006},{"s":"E7","m":"e","d":71,"v":0.0065},{"s":"E7","m":"e","d":72,"v":0.0055},{"s":"E7","m":"e","d":73,"v":0.006},{"s":"E7","m":"e","d":74,"v":0.005},{"s":"E7","m":"e","d":75,"v":0.0055},{"s":"E7","m":"e","d":76,"v":0.0045},{"s":"E7","m":"e","d":77,"v":0.004},{"s":"E7","m":"e","d":78,"v":0.0045},{"s":"E7","m":"e","d":79,"v":0.0035},{"s":"E7","m":"e","d":80,"v":0.003},{"s":"E7","m":"e","d":81,"v":0.0025},{"s":"E7","m":"e","d":82,"v":0.002},{"s":"E7","m":"e","d":83,"v":0.0015},{"s":"E7","m":"e","d":84,"v":0.001},{"s":"E7","m":"e","d":85,"v":0.0005},{"s":"E7","m":"e","d":86,"v":0.0},
{"s":"E8","m":"e","d":56,"v":0.003},{"s":"E8","m":"e","d":57,"v":0.004},{"s":"E8","m":"e","d":58,"v":0.005},{"s":"E8","m":"e","d":59,"v":0.0065},{"s":"E8","m":"e","d":60,"v":0.006},{"s":"E8","m":"e","d":61,"v":0.0075},{"s":"E8","m":"e","d":62,"v":0.0085},{"s":"E8","m":"e","d":63,"v":0.008},{"s":"E8","m":"e","d":64,"v":0.0095},{"s":"E8","m":"e","d":65,"v":0.0105},{"s":"E8","m":"e","d":66,"v":0.009},{"s":"E8","m":"e","d":67,"v":0.0115},{"s":"E8","m":"e","d":68,"v":0.0125},{"s":"E8","m":"e","d":69,"v":0.011},{"s":"E8","m":"e","d":70,"v":0.0095},{"s":"E8","m":"e","d":71,"v":0.0085},{"s":"E8","m":"e","d":72,"v":0.0105},{"s":"E8","m":"e","d":73,"v":0.009},{"s":"E8","m":"e","d":74,"v":0.007},{"s":"E8","m":"e","d":75,"v":0.0055},{"s":"E8","m":"e","d":76,"v":0.004},{"s":"E8","m":"e","d":77,"v":0.003},{"s":"E8","m":"e","d":78,"v":0.002},{"s":"E8","m":"e","d":79,"v":0.001},{"s":"E8","m":"e","d":80,"v":0.0},
{"s":"P1","m":"n","d":55,"v":0.003},{"s":"P1","m":"n","d":56,"v":0.004},{"s":"P1","m":"n","d":57,"v":0.003},{"s":"P1","m":"n","d":58,"v":0.005},{"s":"P1","m":"n","d":59,"v":0.004},{"s":"P1","m":"n","d":60,"v":0.006},{"s":"P1","m":"n","d":61,"v":0.005},{"s":"P1","m":"n","d":62,"v":0.007},{"s":"P1","m":"n","d":63,"v":0.009},{"s":"P1","m":"n","d":64,"v":0.012},{"s":"P1","m":"n","d":65,"v":0.0183},{"s":"P1","m":"n","d":66,"v":0.0222},{"s":"P1","m":"n","d":67,"v":0.0241},{"s":"P1","m":"n","d":68,"v":0.0183},{"s":"P1","m":"n","d":69,"v":0.014},{"s":"P1","m":"n","d":70,"v":0.011},{"s":"P1","m":"n","d":71,"v":0.008},{"s":"P1","m":"n","d":72,"v":0.006},{"s":"P1","m":"n","d":73,"v":0.005},{"s":"P1","m":"n","d":74,"v":0.003},{"s":"P1","m":"n","d":75,"v":0.002},{"s":"P1","m":"n","d":76,"v":0.001},{"s":"P1","m":"n","d":77,"v":0.0},
{"s":"P2","m":"n","d":46,"v":0.003},{"s":"P2","m":"n","d":47,"v":0.004},{"s":"P2","m":"n","d":48,"v":0.0035},{"s":"P2","m":"n","d":49,"v":0.005},{"s":"P2","m":"n","d":50,"v":0.0045},{"s":"P2","m":"n","d":51,"v":0.006},{"s":"P2","m":"n","d":52,"v":0.0055},{"s":"P2","m":"n","d":53,"v":0.007},{"s":"P2","m":"n","d":54,"v":0.008},{"s":"P2","m":"n","d":55,"v":0.0085},{"s":"P2","m":"n","d":56,"v":0.0095},{"s":"P2","m":"n","d":57,"v":0.0106},{"s":"P2","m":"n","d":58,"v":0.0147},{"s":"P2","m":"n","d":59,"v":0.0192},{"s":"P2","m":"n","d":60,"v":0.0164},{"s":"P2","m":"n","d":61,"v":0.012},{"s":"P2","m":"n","d":62,"v":0.0105},{"s":"P2","m":"n","d":63,"v":0.008},{"s":"P2","m":"n","d":64,"v":0.006},{"s":"P2","m":"n","d":65,"v":0.005},{"s":"P2","m":"n","d":66,"v":0.004},{"s":"P2","m":"n","d":67,"v":0.003},{"s":"P2","m":"n","d":68,"v":0.002},{"s":"P2","m":"n","d":69,"v":0.001},{"s":"P2","m":"n","d":70,"v":0.0},
{"s":"P3","m":"n","d":58,"v":0.002},{"s":"P3","m":"n","d":59,"v":0.003},{"s":"P3","m":"n","d":60,"v":0.003},{"s":"P3","m":"n","d":61,"v":0.004},{"s":"P3","m":"n","d":62,"v":0.003},{"s":"P3","m":"n","d":63,"v":0.005},{"s":"P3","m":"n","d":64,"v":0.006},{"s":"P3","m":"n","d":65,"v":0.005},{"s":"P3","m":"n","d":66,"v":0.007},{"s":"P3","m":"n","d":67,"v":0.009},{"s":"P3","m":"n","d":68,"v":0.008},{"s":"P3","m":"n","d":69,"v":0.009},{"s":"P3","m":"n","d":70,"v":0.0085},{"s":"P3","m":"n","d":71,"v":0.0115},{"s":"P3","m":"n","d":72,"v":0.0125},{"s":"P3","m":"n","d":73,"v":0.0181},{"s":"P3","m":"n","d":74,"v":0.0153},{"s":"P3","m":"n","d":75,"v":0.0162},{"s":"P3","m":"n","d":76,"v":0.0192},{"s":"P3","m":"n","d":77,"v":0.0105},{"s":"P3","m":"n","d":78,"v":0.0075},{"s":"P3","m":"n","d":79,"v":0.006},{"s":"P3","m":"n","d":80,"v":0.004},{"s":"P3","m":"n","d":81,"v":0.003},{"s":"P3","m":"n","d":82,"v":0.002},{"s":"P3","m":"n","d":83,"v":0.001},{"s":"P3","m":"n","d":84,"v":0.0},
{"s":"P4","m":"n","d":50,"v":0.002},{"s":"P4","m":"n","d":51,"v":0.003},{"s":"P4","m":"n","d":52,"v":0.004},{"s":"P4","m":"n","d":53,"v":0.003},{"s":"P4","m":"n","d":54,"v":0.005},{"s":"P4","m":"n","d":55,"v":0.006},{"s":"P4","m":"n","d":56,"v":0.005},{"s":"P4","m":"n","d":57,"v":0.007},{"s":"P4","m":"n","d":58,"v":0.006},{"s":"P4","m":"n","d":59,"v":0.008},{"s":"P4","m":"n","d":60,"v":0.009},{"s":"P4","m":"n","d":61,"v":0.008},{"s":"P4","m":"n","d":62,"v":0.01},{"s":"P4","m":"n","d":63,"v":0.011},{"s":"P4","m":"n","d":64,"v":0.0095},{"s":"P4","m":"n","d":65,"v":0.012},{"s":"P4","m":"n","d":66,"v":0.0135},{"s":"P4","m":"n","d":67,"v":0.011},{"s":"P4","m":"n","d":68,"v":0.0125},{"s":"P4","m":"n","d":69,"v":0.013},{"s":"P4","m":"n","d":70,"v":0.0105},{"s":"P4","m":"n","d":71,"v":0.009},{"s":"P4","m":"n","d":72,"v":0.007},{"s":"P4","m":"n","d":73,"v":0.005},{"s":"P4","m":"n","d":74,"v":0.003},{"s":"P4","m":"n","d":75,"v":0.002},{"s":"P4","m":"n","d":76,"v":0.001},{"s":"P4","m":"n","d":77,"v":0.0},
{"s":"P5","m":"n","d":40,"v":0.004},{"s":"P5","m":"n","d":41,"v":0.005},{"s":"P5","m":"n","d":42,"v":0.0045},{"s":"P5","m":"n","d":43,"v":0.006},{"s":"P5","m":"n","d":44,"v":0.0055},{"s":"P5","m":"n","d":45,"v":0.007},{"s":"P5","m":"n","d":46,"v":0.0065},{"s":"P5","m":"n","d":47,"v":0.008},{"s":"P5","m":"n","d":48,"v":0.007},{"s":"P5","m":"n","d":49,"v":0.009},{"s":"P5","m":"n","d":50,"v":0.0105},{"s":"P5","m":"n","d":51,"v":0.0085},{"s":"P5","m":"n","d":52,"v":0.0095},{"s":"P5","m":"n","d":53,"v":0.011},{"s":"P5","m":"n","d":54,"v":0.009},{"s":"P5","m":"n","d":55,"v":0.0075},{"s":"P5","m":"n","d":56,"v":0.0082},{"s":"P5","m":"n","d":57,"v":0.0094},{"s":"P5","m":"n","d":58,"v":0.007},{"s":"P5","m":"n","d":59,"v":0.006},{"s":"P5","m":"n","d":60,"v":0.0045},{"s":"P5","m":"n","d":61,"v":0.005},{"s":"P5","m":"n","d":62,"v":0.003},{"s":"P5","m":"n","d":63,"v":0.002},{"s":"P5","m":"n","d":64,"v":0.001},{"s":"P5","m":"n","d":65,"v":0.0},
{"s":"P6","m":"n","d":62,"v":0.003},{"s":"P6","m":"n","d":63,"v":0.004},{"s":"P6","m":"n","d":64,"v":0.0035},{"s":"P6","m":"n","d":65,"v":0.005},{"s":"P6","m":"n","d":66,"v":0.004},{"s":"P6","m":"n","d":67,"v":0.006},{"s":"P6","m":"n","d":68,"v":0.008},{"s":"P6","m":"n","d":69,"v":0.009},{"s":"P6","m":"n","d":70,"v":0.011},{"s":"P6","m":"n","d":71,"v":0.0095},{"s":"P6","m":"n","d":72,"v":0.008},{"s":"P6","m":"n","d":73,"v":0.01},{"s":"P6","m":"n","d":74,"v":0.009},{"s":"P6","m":"n","d":75,"v":0.012},{"s":"P6","m":"n","d":76,"v":0.0115},{"s":"P6","m":"n","d":77,"v":0.0085},{"s":"P6","m":"n","d":78,"v":0.0095},{"s":"P6","m":"n","d":79,"v":0.007},{"s":"P6","m":"n","d":80,"v":0.0045},{"s":"P6","m":"n","d":81,"v":0.004},{"s":"P6","m":"n","d":82,"v":0.0045},{"s":"P6","m":"n","d":83,"v":0.002},{"s":"P6","m":"n","d":84,"v":0.001},{"s":"P6","m":"n","d":85,"v":0.0},
{"s":"P7","m":"n","d":44,"v":0.002},{"s":"P7","m":"n","d":45,"v":0.003},{"s":"P7","m":"n","d":46,"v":0.0025},{"s":"P7","m":"n","d":47,"v":0.004},{"s":"P7","m":"n","d":48,"v":0.0035},{"s":"P7","m":"n","d":49,"v":0.005},{"s":"P7","m":"n","d":50,"v":0.0045},{"s":"P7","m":"n","d":51,"v":0.006},{"s":"P7","m":"n","d":52,"v":0.005},{"s":"P7","m":"n","d":53,"v":0.0065},{"s":"P7","m":"n","d":54,"v":0.006},{"s":"P7","m":"n","d":55,"v":0.0072},{"s":"P7","m":"n","d":56,"v":0.0065},{"s":"P7","m":"n","d":57,"v":0.0078},{"s":"P7","m":"n","d":58,"v":0.007},{"s":"P7","m":"n","d":59,"v":0.0085},{"s":"P7","m":"n","d":60,"v":0.0075},{"s":"P7","m":"n","d":61,"v":0.009},{"s":"P7","m":"n","d":62,"v":0.0095},{"s":"P7","m":"n","d":63,"v":0.0075},{"s":"P7","m":"n","d":64,"v":0.006},{"s":"P7","m":"n","d":65,"v":0.0045},{"s":"P7","m":"n","d":66,"v":0.003},{"s":"P7","m":"n","d":67,"v":0.002},{"s":"P7","m":"n","d":68,"v":0.001},{"s":"P7","m":"n","d":69,"v":0.0},
{"s":"P8","m":"n","d":52,"v":0.002},{"s":"P8","m":"n","d":53,"v":0.003},{"s":"P8","m":"n","d":54,"v":0.0025},{"s":"P8","m":"n","d":55,"v":0.004},{"s":"P8","m":"n","d":56,"v":0.0035},{"s":"P8","m":"n","d":57,"v":0.005},{"s":"P8","m":"n","d":58,"v":0.0045},{"s":"P8","m":"n","d":59,"v":0.006},{"s":"P8","m":"n","d":60,"v":0.0055},{"s":"P8","m":"n","d":61,"v":0.007},{"s":"P8","m":"n","d":62,"v":0.006},{"s":"P8","m":"n","d":63,"v":0.0065},{"s":"P8","m":"n","d":64,"v":0.0075},{"s":"P8","m":"n","d":65,"v":0.006},{"s":"P8","m":"n","d":66,"v":0.007},{"s":"P8","m":"n","d":67,"v":0.0055},{"s":"P8","m":"n","d":68,"v":0.006},{"s":"P8","m":"n","d":69,"v":0.0045},{"s":"P8","m":"n","d":70,"v":0.005},{"s":"P8","m":"n","d":71,"v":0.0035},{"s":"P8","m":"n","d":72,"v":0.004},{"s":"P8","m":"n","d":73,"v":0.003},{"s":"P8","m":"n","d":74,"v":0.0025},{"s":"P8","m":"n","d":75,"v":0.002},{"s":"P8","m":"n","d":76,"v":0.0015},{"s":"P8","m":"n","d":77,"v":0.001},{"s":"P8","m":"n","d":78,"v":0.0005},{"s":"P8","m":"n","d":79,"v":0.0},
{"s":"P9","m":"n","d":45,"v":0.003},{"s":"P9","m":"n","d":46,"v":0.0045},{"s":"P9","m":"n","d":47,"v":0.004},{"s":"P9","m":"n","d":48,"v":0.006},{"s":"P9","m":"n","d":49,"v":0.005},{"s":"P9","m":"n","d":50,"v":0.0065},{"s":"P9","m":"n","d":51,"v":0.0075},{"s":"P9","m":"n","d":52,"v":0.0065},{"s":"P9","m":"n","d":53,"v":0.008},{"s":"P9","m":"n","d":54,"v":0.0095},{"s":"P9","m":"n","d":55,"v":0.0085},{"s":"P9","m":"n","d":56,"v":0.011},{"s":"P9","m":"n","d":57,"v":0.0095},{"s":"P9","m":"n","d":58,"v":0.008},{"s":"P9","m":"n","d":59,"v":0.0105},{"s":"P9","m":"n","d":60,"v":0.009},{"s":"P9","m":"n","d":61,"v":0.0075},{"s":"P9","m":"n","d":62,"v":0.0085},{"s":"P9","m":"n","d":63,"v":0.0065},{"s":"P9","m":"n","d":64,"v":0.007},{"s":"P9","m":"n","d":65,"v":0.0055},{"s":"P9","m":"n","d":66,"v":0.004},{"s":"P9","m":"n","d":67,"v":0.003},{"s":"P9","m":"n","d":68,"v":0.002},{"s":"P9","m":"n","d":69,"v":0.001},{"s":"P9","m":"n","d":70,"v":0.0},
{"s":"P10","m":"n","d":64,"v":0.002},{"s":"P10","m":"n","d":65,"v":0.003},{"s":"P10","m":"n","d":66,"v":0.0045},{"s":"P10","m":"n","d":67,"v":0.004},{"s":"P10","m":"n","d":68,"v":0.0055},{"s":"P10","m":"n","d":69,"v":0.005},{"s":"P10","m":"n","d":70,"v":0.0065},{"s":"P10","m":"n","d":71,"v":0.006},{"s":"P10","m":"n","d":72,"v":0.0075},{"s":"P10","m":"n","d":73,"v":0.0065},{"s":"P10","m":"n","d":74,"v":0.008},{"s":"P10","m":"n","d":75,"v":0.007},{"s":"P10","m":"n","d":76,"v":0.0085},{"s":"P10","m":"n","d":77,"v":0.006},{"s":"P10","m":"n","d":78,"v":0.0045},{"s":"P10","m":"n","d":79,"v":0.005},{"s":"P10","m":"n","d":80,"v":0.0035},{"s":"P10","m":"n","d":81,"v":0.0025},{"s":"P10","m":"n","d":82,"v":0.002},{"s":"P10","m":"n","d":83,"v":0.0015},{"s":"P10","m":"n","d":84,"v":0.001},{"s":"P10","m":"n","d":85,"v":0.0005},{"s":"P10","m":"n","d":86,"v":0.0},
{"s":"G1","m":"b","d":40,"v":0.003},{"s":"G1","m":"b","d":41,"v":0.004},{"s":"G1","m":"b","d":42,"v":0.003},{"s":"G1","m":"b","d":43,"v":0.005},{"s":"G1","m":"b","d":44,"v":0.004},{"s":"G1","m":"b","d":45,"v":0.006},{"s":"G1","m":"b","d":46,"v":0.005},{"s":"G1","m":"b","d":47,"v":0.0075},{"s":"G1","m":"b","d":48,"v":0.009},{"s":"G1","m":"b","d":49,"v":0.011},{"s":"G1","m":"b","d":50,"v":0.0135},{"s":"G1","m":"b","d":51,"v":0.0157},{"s":"G1","m":"b","d":52,"v":0.0195,"lo":0.0155,"hi":0.0232},{"s":"G1","m":"b","d":53,"v":0.0232},{"s":"G1","m":"b","d":54,"v":0.0189},{"s":"G1","m":"b","d":55,"v":0.0147},{"s":"G1","m":"b","d":56,"v":0.0116},{"s":"G1","m":"b","d":57,"v":0.007},{"s":"G1","m":"b","d":58,"v":0.0025},{"s":"G1","m":"b","d":59,"v":0.0},
{"s":"G2","m":"b","d":36,"v":0.003},{"s":"G2","m":"b","d":37,"v":0.004},{"s":"G2","m":"b","d":38,"v":0.0035},{"s":"G2","m":"b","d":39,"v":0.005},{"s":"G2","m":"b","d":40,"v":0.0045},{"s":"G2","m":"b","d":41,"v":0.006},{"s":"G2","m":"b","d":42,"v":0.0055},{"s":"G2","m":"b","d":43,"v":0.0075},{"s":"G2","m":"b","d":44,"v":0.0088,"lo":0.0045,"hi":0.0088},{"s":"G2","m":"b","d":45,"v":0.0103,"lo":0.0045,"hi":0.0103},{"s":"G2","m":"b","d":46,"v":0.0117,"lo":0.005,"hi":0.0117},{"s":"G2","m":"b","d":47,"v":0.014,"lo":0.006,"hi":0.014},{"s":"G2","m":"b","d":48,"v":0.0128,"lo":0.0055,"hi":0.0128},{"s":"G2","m":"b","d":49,"v":0.0137,"lo":0.006,"hi":0.0137},{"s":"G2","m":"b","d":50,"v":0.0142,"lo":0.006,"hi":0.0142},{"s":"G2","m":"b","d":51,"v":0.0159,"lo":0.0065,"hi":0.0159},{"s":"G2","m":"b","d":52,"v":0.011},{"s":"G2","m":"b","d":53,"v":0.007},{"s":"G2","m":"b","d":54,"v":0.004},{"s":"G2","m":"b","d":55,"v":0.002},{"s":"G2","m":"b","d":56,"v":0.0},
{"s":"G3","m":"b","d":38,"v":0.002},{"s":"G3","m":"b","d":39,"v":0.003},{"s":"G3","m":"b","d":40,"v":0.0025},{"s":"G3","m":"b","d":41,"v":0.004},{"s":"G3","m":"b","d":42,"v":0.0035},{"s":"G3","m":"b","d":43,"v":0.005},{"s":"G3","m":"b","d":44,"v":0.0045},{"s":"G3","m":"b","d":45,"v":0.0065},{"s":"G3","m":"b","d":46,"v":0.006},{"s":"G3","m":"b","d":47,"v":0.008},{"s":"G3","m":"b","d":48,"v":0.0105},{"s":"G3","m":"b","d":49,"v":0.009},{"s":"G3","m":"b","d":50,"v":0.012},{"s":"G3","m":"b","d":51,"v":0.0135},{"s":"G3","m":"b","d":52,"v":0.0105},{"s":"G3","m":"b","d":53,"v":0.009},{"s":"G3","m":"b","d":54,"v":0.0075},{"s":"G3","m":"b","d":55,"v":0.0055},{"s":"G3","m":"b","d":56,"v":0.006},{"s":"G3","m":"b","d":57,"v":0.004},{"s":"G3","m":"b","d":58,"v":0.0045},{"s":"G3","m":"b","d":59,"v":0.0025},{"s":"G3","m":"b","d":60,"v":0.001},
{"s":"G4","m":"b","d":44,"v":0.003},{"s":"G4","m":"b","d":45,"v":0.0025},{"s":"G4","m":"b","d":46,"v":0.004},{"s":"G4","m":"b","d":47,"v":0.0035},{"s":"G4","m":"b","d":48,"v":0.005},{"s":"G4","m":"b","d":49,"v":0.0045},{"s":"G4","m":"b","d":50,"v":0.006},{"s":"G4","m":"b","d":51,"v":0.0055},{"s":"G4","m":"b","d":52,"v":0.005},{"s":"G4","m":"b","d":53,"v":0.004},{"s":"G4","m":"b","d":54,"v":0.0045},{"s":"G4","m":"b","d":55,"v":0.0035},{"s":"G4","m":"b","d":56,"v":0.003},{"s":"G4","m":"b","d":57,"v":0.0025},{"s":"G4","m":"b","d":58,"v":0.002},{"s":"G4","m":"b","d":59,"v":0.0015},{"s":"G4","m":"b","d":60,"v":0.0025},{"s":"G4","m":"b","d":61,"v":0.0035},{"s":"G4","m":"b","d":62,"v":0.0054},{"s":"G4","m":"b","d":63,"v":0.003},{"s":"G4","m":"b","d":64,"v":0.001},
{"s":"G5","m":"b","d":40,"v":0.0035},{"s":"G5","m":"b","d":41,"v":0.0045},{"s":"G5","m":"b","d":42,"v":0.005},{"s":"G5","m":"b","d":43,"v":0.0065},{"s":"G5","m":"b","d":44,"v":0.006},{"s":"G5","m":"b","d":45,"v":0.0085},{"s":"G5","m":"b","d":46,"v":0.0075},{"s":"G5","m":"b","d":47,"v":0.0095},{"s":"G5","m":"b","d":48,"v":0.0085},{"s":"G5","m":"b","d":49,"v":0.011},{"s":"G5","m":"b","d":50,"v":0.0145},{"s":"G5","m":"b","d":51,"v":0.0095},{"s":"G5","m":"b","d":52,"v":0.007},{"s":"G5","m":"b","d":53,"v":0.005},{"s":"G5","m":"b","d":54,"v":0.003},{"s":"G5","m":"b","d":55,"v":0.0015},{"s":"G5","m":"b","d":56,"v":0.0},
{"s":"G6","m":"b","d":42,"v":0.001},{"s":"G6","m":"b","d":43,"v":0.002},{"s":"G6","m":"b","d":44,"v":0.0015},{"s":"G6","m":"b","d":45,"v":0.0025},{"s":"G6","m":"b","d":46,"v":0.002},{"s":"G6","m":"b","d":47,"v":0.003},{"s":"G6","m":"b","d":48,"v":0.0025},{"s":"G6","m":"b","d":49,"v":0.0035},{"s":"G6","m":"b","d":50,"v":0.003},{"s":"G6","m":"b","d":51,"v":0.0025},{"s":"G6","m":"b","d":52,"v":0.002},{"s":"G6","m":"b","d":53,"v":0.0015},{"s":"G6","m":"b","d":54,"v":0.001},{"s":"G6","m":"b","d":55,"v":0.0005},{"s":"G6","m":"b","d":56,"v":0.0},
{"s":"G7","m":"b","d":37,"v":0.004},{"s":"G7","m":"b","d":38,"v":0.005},{"s":"G7","m":"b","d":39,"v":0.0045},{"s":"G7","m":"b","d":40,"v":0.006},{"s":"G7","m":"b","d":41,"v":0.0055},{"s":"G7","m":"b","d":42,"v":0.007},{"s":"G7","m":"b","d":43,"v":0.0065},{"s":"G7","m":"b","d":44,"v":0.008},{"s":"G7","m":"b","d":45,"v":0.0075},{"s":"G7","m":"b","d":46,"v":0.0095},{"s":"G7","m":"b","d":47,"v":0.0085},{"s":"G7","m":"b","d":48,"v":0.0105},{"s":"G7","m":"b","d":49,"v":0.0155},{"s":"G7","m":"b","d":50,"v":0.0125},{"s":"G7","m":"b","d":51,"v":0.0095},{"s":"G7","m":"b","d":52,"v":0.0085},{"s":"G7","m":"b","d":53,"v":0.006},{"s":"G7","m":"b","d":54,"v":0.0045},{"s":"G7","m":"b","d":55,"v":0.003},{"s":"G7","m":"b","d":56,"v":0.0015},{"s":"G7","m":"b","d":57,"v":0.0},
{"s":"B1","m":"a","d":34,"v":0.002},{"s":"B1","m":"a","d":35,"v":0.0025},{"s":"B1","m":"a","d":36,"v":0.002},{"s":"B1","m":"a","d":37,"v":0.003},{"s":"B1","m":"a","d":38,"v":0.0035},{"s":"B1","m":"a","d":39,"v":0.004},{"s":"B1","m":"a","d":40,"v":0.0077},{"s":"B1","m":"a","d":41,"v":0.003},{"s":"B1","m":"a","d":42,"v":0.002},{"s":"B1","m":"a","d":43,"v":0.001},{"s":"B1","m":"a","d":44,"v":0.0},
{"s":"B2","m":"a","d":33,"v":0.0015},{"s":"B2","m":"a","d":34,"v":0.001},{"s":"B2","m":"a","d":35,"v":0.002},{"s":"B2","m":"a","d":36,"v":0.0015},{"s":"B2","m":"a","d":37,"v":0.0025},{"s":"B2","m":"a","d":38,"v":0.002},{"s":"B2","m":"a","d":39,"v":0.0015},{"s":"B2","m":"a","d":40,"v":0.001},{"s":"B2","m":"a","d":41,"v":0.0015},{"s":"B2","m":"a","d":42,"v":0.0005},{"s":"B2","m":"a","d":43,"v":0.0}
]
},
"encoding":{
 "x":{"field":"d","type":"quantitative","scale":{"domain":[-4.55,93.9],"nice":false,"zero":false},
  "axis":{"values":[0,20,40,60,80],"title":"Number of days","labelFont":"Liberation Serif","titleFont":"Liberation Serif","titleFontSize":29,"labelPadding":0,"titlePadding":-7,"tickSize":3}},
 "color":{"field":"m","type":"nominal",
  "scale":{"domain":["e","n","a","b","f","s"],"range":["#FFDAB9","#DDA0DD","#00BFFF","#808080","#008000","#9400D3"]},
  "legend":{"orient":"none","legendX":330,"legendY":29,"title":null,
   "labelExpr":"datum.label == 'e' ? 'edges' : datum.label == 'n' ? 'node attributes' : datum.label == 'a' ? 'GWESP = 0.25' : datum.label == 'b' ? 'GWESP = 0.5' : datum.label == 'f' ? 'faux magnolia' : 'school 86'",
   "labelColor":{"expr":"datum.value == 'e' ? '#FFA500' : datum.value == 'n' ? '#FF00FF' : datum.value == 'a' ? '#00BFFF' : datum.value == 'b' ? '#808080' : datum.value == 'f' ? '#008000' : '#9400D3'"},
   "labelFont":"Liberation Serif","labelFontStyle":"italic","labelFontSize":27,"labelLimit":400,"labelAlign":"center","labelOffset":65,
   "symbolOpacity":0,"symbolSize":0,"symbolStrokeWidth":0,"rowPadding":4.4,"padding":4,
   "strokeColor":"#111","fillColor":"white"}}
},
"layer":[
 {"data":{"name":"sim"},"mark":{"type":"line","strokeWidth":1.2},
  "encoding":{"y":{"field":"v","type":"quantitative","scale":{"domain":[-0.00358,0.07555],"nice":false,"zero":false},
   "axis":{"values":[0,0.01,0.02,0.03,0.04,0.05,0.06,0.07],"format":".2f","title":"Fraction infected","labelFont":"Liberation Serif","titleFont":"Liberation Serif","titleFontSize":30,"titlePadding":5,"labelPadding":1,"tickSize":3}},
   "detail":{"field":"s"}}},
 {"data":{"name":"sim"},"mark":{"type":"point","shape":"M-1,0H1","size":20,"filled":false,"strokeWidth":1.2,"opacity":1},
  "encoding":{"y":{"field":"v","type":"quantitative"}}},
 {"data":{"name":"sim"},"transform":[{"filter":"isValid(datum.lo)"}],"mark":{"type":"rule","strokeWidth":1.2},
  "encoding":{"y":{"field":"lo","type":"quantitative"},"y2":{"field":"hi"}}},
 {"data":{"name":"box"},"mark":{"type":"rule","strokeWidth":1.2},
  "encoding":{"y":{"field":"lo","type":"quantitative"},"y2":{"field":"hi"}}},
 {"data":{"name":"box"},"mark":{"type":"point","shape":"M-1,0H1","size":36,"filled":false,"strokeWidth":1.4,"opacity":1},
  "encoding":{"y":{"field":"hi","type":"quantitative"}}},
 {"data":{"name":"box"},"mark":{"type":"point","shape":"M-1,0H1","size":36,"filled":false,"strokeWidth":1.4,"opacity":1},
  "encoding":{"y":{"field":"lo","type":"quantitative"}}},
 {"data":{"name":"box"},"mark":{"type":"rule","strokeWidth":4.5},
  "encoding":{"y":{"field":"q1","type":"quantitative"},"y2":{"field":"q3"}}},
 {"data":{"name":"box"},"mark":{"type":"line","strokeWidth":4.5},
  "encoding":{"y":{"field":"v","type":"quantitative"}}},
 {"data":{"name":"obs"},"transform":[{"filter":"isValid(datum.lo)"}],"mark":{"type":"rule","strokeWidth":1.8},
  "encoding":{"y":{"field":"lo","type":"quantitative"},"y2":{"field":"hi"}}},
 {"data":{"name":"obs"},"transform":[{"filter":"isValid(datum.lo)"}],"mark":{"type":"point","shape":"M-1,0H1","size":49,"filled":false,"strokeWidth":1.8,"opacity":1},
  "encoding":{"y":{"field":"hi","type":"quantitative"}}},
 {"data":{"name":"obs"},"transform":[{"filter":"isValid(datum.lo)"}],"mark":{"type":"point","shape":"M-1,0H1","size":49,"filled":false,"strokeWidth":1.8,"opacity":1},
  "encoding":{"y":{"field":"lo","type":"quantitative"}}},
 {"data":{"name":"obs"},"mark":{"type":"line","strokeWidth":1.5},
  "encoding":{"y":{"field":"v","type":"quantitative"}}},
 {"data":{"name":"obs"},"mark":{"type":"point","shape":"circle","size":50,"filled":true,"opacity":1},
  "encoding":{"y":{"field":"v","type":"quantitative"}}}
]
}
